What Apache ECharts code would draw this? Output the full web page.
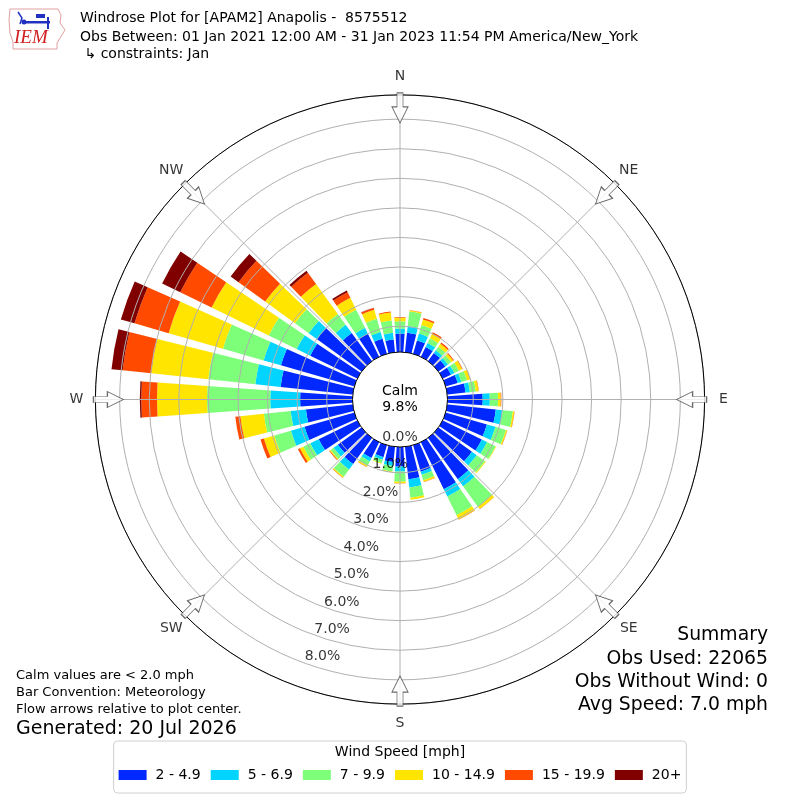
<!DOCTYPE html>
<html><head><meta charset="utf-8">
<script src="https://cdn.jsdelivr.net/npm/echarts@6/dist/echarts.min.js"></script>
<style>html,body{margin:0;padding:0;background:#fff}#c{width:800px;height:800px}</style>
</head><body><div id="c"></div>
<script>
const directions = ['0','10','20','30','40','50','60','70','80','90','100','110','120','130','140','150','160','170',
  '180','190','200','210','220','230','240','250','260','270','280','290','300','310','320','330','340','350'];
const speedBins = ['2 - 4.9','5 - 6.9','7 - 9.9','10 - 14.9','15 - 19.9','20+'];
const binColors = ['#0028ff','#00d4ff','#7dff7a','#ffe500','#ff4a00','#800000'];
const pct_2_4 = [0.75,0.79,0.60,0.50,0.47,0.42,0.44,0.55,0.75,1.32,1.78,1.58,1.60,1.53,1.85,1.90,1.06,1.23,
                 0.79,0.65,0.55,0.72,1.22,1.12,1.58,1.88,1.72,1.90,2.58,2.71,1.90,2.00,1.30,1.00,0.66,0.56];
const pct_5_6 = [0.17,0.23,0.24,0.15,0.11,0.11,0.13,0.13,0.15,0.24,0.23,0.30,0.20,0.20,0.30,0.27,0.11,0.28,
                 0.17,0.13,0.09,0.13,0.23,0.18,0.32,0.48,0.52,1.01,0.86,0.61,0.51,0.34,0.35,0.22,0.24,0.23];
const pct_7_9 = [0.25,0.49,0.30,0.18,0.15,0.13,0.17,0.20,0.20,0.28,0.35,0.37,0.32,0.35,0.85,0.71,0.19,0.35,
                 0.34,0.19,0.12,0.17,0.30,0.12,0.26,0.59,0.91,2.14,1.60,1.43,1.05,0.57,0.45,0.68,0.46,0.42];
const pct_10_14 = [0.12,0.04,0.20,0.16,0.12,0.09,0.12,0.11,0.09,0.09,0.05,0.04,0.02,0.03,0.10,0.16,0.06,0.07,
                 0.05,0.03,0.02,0.04,0.04,0.04,0.13,0.36,0.80,1.69,1.94,1.91,2.15,1.25,1.25,0.45,0.32,0.27];
const pct_15_19 = [0.02,0.01,0.05,0.06,0.05,0.03,0.02,0.01,0.01,0.02,0.01,0.01,0.00,0.00,0.01,0.01,0.01,0.00,
                 0.01,0.00,0.00,0.01,0.01,0.02,0.07,0.12,0.17,0.53,0.97,1.20,1.18,1.11,0.47,0.21,0.06,0.03];
const pct_20p = [0,0,0,0,0,0,0,0,0,0,0,0,0,0,0,0,0,0,
                 0,0,0,0,0,0,0,0,0,0.05,0.38,0.48,0.68,0.33,0.08,0.06,0.01,0];
const binData = [pct_2_4, pct_5_6, pct_7_9, pct_10_14, pct_15_19, pct_20p];
const radialTicks = [0,1,2,3,4,5,6,7,8];
const radialTickLabels = ['0.0%','1.0%','2.0%','3.0%','4.0%','5.0%','6.0%','7.0%','8.0%'];
const compassBearings = [0,45,90,135,180,225,270,315];
const compassNames = ['N','NE','E','SE','S','SW','W','NW'];
const calmText = 'Calm\n9.8%';
const titleLines = ['Windrose Plot for [APAM2] Anapolis -  8575512',
  'Obs Between: 01 Jan 2021 12:00 AM - 31 Jan 2023 11:54 PM America/New_York',
  ' \u21b3 constraints: Jan'];
const noteLines = ['Calm values are < 2.0 mph','Bar Convention: Meteorology','Flow arrows relative to plot center.'];
const generatedText = 'Generated: 20 Jul 2026';
const summaryLines = ['Summary','Obs Used: 22065','Obs Without Wind: 0','Avg Speed: 7.0 mph'];
const legendTitle = 'Wind Speed [mph]';

// ---- layout ----
const FONT = 'DejaVu Sans';
const CENTER = [400, 399.5];
const RMAX = 8.82;
const ARROW_R = 8.38;
const LABEL_BEARING = 199.5;
const arrowPath = 'path://M5,0 L11,0 L11,14 L16,14 L8,30 L0,14 L5,14 Z';

const chart = echarts.init(document.getElementById('c'), null, {renderer:'canvas'});

const txt = (x, y, text, size, align, extra) => Object.assign({
  type:'text', x, y, z:20,
  style:{text, fill:'#000', font: size + 'px "' + FONT + '"', textAlign: align || 'left', textVerticalAlign:'middle', lineHeight:16}
}, extra || {});

const graphics = [
  {type:'circle', shape:{cx:CENTER[0], cy:CENTER[1], r:47.5}, style:{fill:'#fff', stroke:'#000', lineWidth:1}, z:10},
  txt(400, 399.5, calmText, 14, 'center', {z:21}),
  // IEM logo (approximation)
  {type:'polyline', shape:{points:[[10,9],[58,9],[61,15],[60,23],[65,30],[60,38],[57,43],[57,49],[13,49],[13,42],[10,33],[9,20],[10,9]]},
   style:{stroke:'#e0a0a0', fill:'none', lineWidth:1}, z:20},
  {type:'polyline', shape:{points:[[18,12],[22,18],[20,24]]}, style:{stroke:'#2030c0', fill:'none', lineWidth:1.5}, z:20},
  {type:'rect', shape:{x:22, y:21, width:28, height:2.5}, style:{fill:'#2030c0'}, z:20},
  {type:'rect', shape:{x:36, y:14, width:9, height:4}, style:{fill:'#2030c0'}, z:20},
  {type:'rect', shape:{x:47, y:17, width:2, height:12}, style:{fill:'#2030c0'}, z:20},
  {type:'circle', shape:{cx:24, cy:22, r:2.5}, style:{fill:'#2030c0'}, z:20},
  {type:'text', x:14, y:38, z:20, style:{text:'IEM', fill:'#d02020', font:'italic 19px "Liberation Serif"', textAlign:'left', textVerticalAlign:'middle'}},
  txt(80, 18, titleLines[0], 14),
  txt(80, 37, titleLines[1], 14),
  txt(80, 54, titleLines[2], 14),
  txt(16, 676, noteLines[0], 13),
  txt(16, 693, noteLines[1], 13),
  txt(16, 710, noteLines[2], 13),
  txt(16, 729, generatedText, 19),
  txt(768, 635, summaryLines[0], 18.8, 'right'),
  txt(768, 659, summaryLines[1], 18.8, 'right'),
  txt(768, 682, summaryLines[2], 18.8, 'right'),
  txt(768, 705, summaryLines[3], 18.8, 'right'),
  txt(400, 752, legendTitle, 14, 'center', {z:30})
];

const barSeries = speedBins.map((name, i) => ({
  type:'bar', name, coordinateSystem:'polar', polarIndex:1, stack:'wind',
  data: binData[i], barCategoryGap:'20%', itemStyle:{color:binColors[i]}, z:2, silent:true
}));

const option = {
  animation:false,
  backgroundColor:'#fff',
  textStyle:{fontFamily:FONT},
  polar:[
    {center:CENTER, radius:[43.7, 304.6]},
    {center:CENTER, radius:[43.7, 304.6]},
    {center:CENTER, radius:[35.8, 292.2]},
    {center:CENTER, radius:[0, 323.5]}
  ],
  angleAxis:[
    {polarIndex:0, type:'value', min:0, max:360, interval:45, startAngle:90, clockwise:true, z:3,
     axisLine:{show:true, lineStyle:{color:'#000', width:1}}, axisTick:{show:false},
     splitLine:{show:true, lineStyle:{color:'#b0b0b0', width:1}},
     axisLabel:{show:false}},
    {polarIndex:1, type:'category', data:directions, startAngle:95, clockwise:true, boundaryGap:true, show:false},
    {polarIndex:2, type:'value', min:0, max:360, startAngle:90, clockwise:true, show:false},
    {polarIndex:3, type:'value', min:0, max:360, startAngle:90, clockwise:true, show:false}
  ],
  radiusAxis:[
    {polarIndex:0, type:'value', min:0, max:RMAX, interval:1, z:3,
     axisLine:{show:false}, axisTick:{show:false}, axisLabel:{show:false},
     splitLine:{show:true, lineStyle:{color:'#b0b0b0', width:1}}},
    {polarIndex:1, type:'value', min:0, max:RMAX, show:false},
    {polarIndex:2, type:'value', min:0, max:RMAX, show:false},
    {polarIndex:3, type:'value', min:0, max:1, show:false}
  ],
  legend:{
    data:speedBins, left:'center', top:741, orient:'horizontal', icon:'rect',
    itemWidth:28, itemHeight:10, itemGap:10, padding:[27,5,11,5],
    borderColor:'#d0d0d0', borderWidth:1, borderRadius:4, backgroundColor:'#fff',
    selectedMode:false,
    textStyle:{fontSize:14, color:'#000', fontFamily:FONT, padding:[0,0,0,4]}
  },
  graphic:{elements:graphics},
  series: barSeries.concat([
    {type:'scatter', coordinateSystem:'polar', polarIndex:0, z:12, silent:true,
     symbol:arrowPath, symbolSize:[16,30], symbolKeepAspect:false,
     data: compassBearings.map(b => ({value:[ARROW_R, b], symbolRotate:-b})),
     itemStyle:{color:'#fff', borderColor:'#444', borderWidth:1}},
    {type:'scatter', coordinateSystem:'polar', polarIndex:2, z:25, silent:true,
     symbol:'circle', symbolSize:1, itemStyle:{color:'rgba(0,0,0,0)'},
     data: radialTicks.map(v => [v, LABEL_BEARING]),
     label:{show:true, position:'inside', offset:[12,4.2], color:'#000', fontSize:14, fontFamily:FONT,
       formatter: p => radialTickLabels[p.dataIndex]}},
    {type:'scatter', coordinateSystem:'polar', polarIndex:3, z:25, silent:true,
     symbol:'circle', symbolSize:1, itemStyle:{color:'rgba(0,0,0,0)'},
     data: compassBearings.map(b => [1, b]),
     label:{show:true, position:'inside', color:'#000', fontSize:14, fontFamily:FONT,
       formatter: p => compassNames[p.dataIndex]}}
  ])
};
chart.setOption(option);
</script>
</body></html>
